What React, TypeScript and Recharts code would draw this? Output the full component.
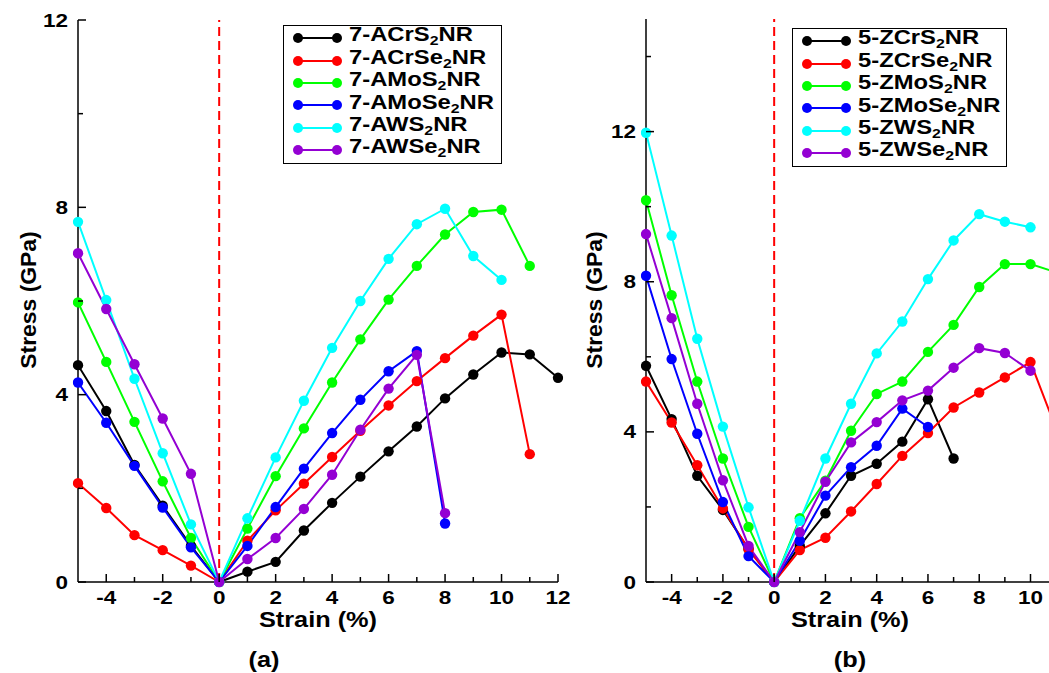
import { LineChart, Line, XAxis, YAxis, ReferenceLine, Legend } from "recharts";

const FONT = '"Liberation Sans", Arial, Helvetica, sans-serif';
const STRETCH = 1.22;

// strain (%) sampled from -5 upward in steps of 1
const strain = [-5, -4, -3, -2, -1, 0, 1, 2, 3, 4, 5, 6, 7, 8, 9, 10, 11, 12];

// (a) armchair ribbons, stress in GPa
const aCrS2 = [4.63, 3.65, 2.5, 1.63, 0.77, 0, 0.22, 0.43, 1.1, 1.69, 2.25, 2.79, 3.32, 3.92, 4.43, 4.9, 4.86, 4.36];
const aCrSe2 = [2.11, 1.58, 1.0, 0.68, 0.35, 0, 0.88, 1.53, 2.1, 2.67, 3.23, 3.77, 4.29, 4.78, 5.26, 5.71, 2.73];
const aMoS2 = [5.97, 4.7, 3.42, 2.15, 0.94, 0, 1.14, 2.26, 3.28, 4.26, 5.18, 6.03, 6.75, 7.42, 7.9, 7.95, 6.75];
const aMoSe2 = [4.26, 3.4, 2.48, 1.59, 0.74, 0, 0.77, 1.6, 2.42, 3.18, 3.89, 4.5, 4.93, 1.25];
const aWS2 = [7.69, 6.02, 4.34, 2.75, 1.23, 0, 1.36, 2.66, 3.87, 5.0, 6.0, 6.9, 7.64, 7.97, 6.96, 6.45];
const aWSe2 = [7.02, 5.83, 4.65, 3.49, 2.31, 0, 0.49, 0.94, 1.56, 2.29, 3.25, 4.13, 4.85, 1.47];

// (b) zigzag ribbons
const zCrS2 = [5.76, 4.34, 2.83, 1.92, 0.88, 0, 0.96, 1.83, 2.83, 3.15, 3.74, 4.87, 3.29];
const zCrSe2 = [5.34, 4.25, 3.11, 1.96, 0.87, 0, 0.85, 1.18, 1.88, 2.61, 3.36, 3.97, 4.65, 5.05, 5.45, 5.86, 4.08];
const zMoS2 = [10.17, 7.64, 5.34, 3.29, 1.47, 0, 1.7, 2.7, 4.03, 5.01, 5.34, 6.13, 6.85, 7.86, 8.47, 8.47, 8.25];
const zMoSe2 = [8.16, 5.94, 3.95, 2.13, 0.69, 0, 1.1, 2.3, 3.06, 3.63, 4.62, 4.13];
const zWS2 = [11.97, 9.23, 6.48, 4.14, 1.99, 0, 1.63, 3.29, 4.75, 6.09, 6.94, 8.07, 9.1, 9.8, 9.6, 9.45];
const zWSe2 = [9.27, 7.03, 4.75, 2.71, 0.96, 0, 1.33, 2.67, 3.72, 4.26, 4.84, 5.1, 5.71, 6.23, 6.1, 5.63];

const colors = ["#000000", "#ff0000", "#00ff00", "#0000ff", "#00ffff", "#9400d3"];
const namesA = ["7-ACrS", "7-ACrSe", "7-AMoS", "7-AMoSe", "7-AWS", "7-AWSe"];
const namesB = ["5-ZCrS", "5-ZCrSe", "5-ZMoS", "5-ZMoSe", "5-ZWS", "5-ZWSe"];

const ticksXA = [-4, -3, -2, -1, 0, 1, 2, 3, 4, 5, 6, 7, 8, 9, 10, 11, 12];
const ticksXB = [-4, -3, -2, -1, 0, 1, 2, 3, 4, 5, 6, 7, 8, 9, 10];
const ticksYA = [0, 2, 4, 6, 8, 10, 12];
const ticksYB = [0, 2, 4, 6, 8, 10, 12, 14];

type Series = { name: string; color: string; points: { x: number; y: number }[] };

const toPoints = (vals: number[]) => vals.map((y, i) => ({ x: strain[i], y }));

const seriesA: Series[] = [aCrS2, aCrSe2, aMoS2, aMoSe2, aWS2, aWSe2].map((v, i) => ({
  name: namesA[i],
  color: colors[i],
  points: toPoints(v),
}));
const seriesB: Series[] = [zCrS2, zCrSe2, zMoS2, zMoSe2, zWS2, zWSe2].map((v, i) => ({
  name: namesB[i],
  color: colors[i],
  points: toPoints(v),
}));

const tickText = (x: number, y: number, anchor: string, value: number) => (
  <text
    transform={`translate(${x},${y}) scale(1.25,1)`}
    textAnchor={anchor}
    fontFamily={FONT}
    fontWeight="bold"
    fontSize={18}
    fill="#000"
  >
    {value}
  </text>
);

// ticks point into the plot, labels only on even (x) / multiples of 4 (y)
const BottomTick = ({ x, y, payload }: any) => {
  const major = payload.value % 2 === 0;
  return (
    <g>
      <line x1={x} x2={x} y1={y} y2={y - (major ? 8 : 5)} stroke="#000" strokeWidth={1.5} />
      {major && tickText(x, y + 22, "middle", payload.value)}
    </g>
  );
};
const TopTick = ({ x, y, payload }: any) => {
  const major = payload.value % 2 === 0;
  return <line x1={x} x2={x} y1={y} y2={y + (major ? 7 : 5)} stroke="#000" strokeWidth={1.5} />;
};
const LeftTick = ({ x, y, payload }: any) => {
  const major = payload.value % 4 === 0;
  return (
    <g>
      <line x1={x} x2={x + (major ? 8 : 5)} y1={y} y2={y} stroke="#000" strokeWidth={1.5} />
      {major && tickText(x - 10, y + 6.5, "end", payload.value)}
    </g>
  );
};
const RightTick = ({ x, y, payload }: any) => {
  const major = payload.value % 4 === 0;
  return <line x1={x} x2={x - (major ? 7 : 5)} y1={y} y2={y} stroke="#000" strokeWidth={1.5} />;
};

function LegendBox({ series }: { series: Series[] }) {
  return (
    <div
      style={{
        border: "1.5px solid #000",
        background: "#fff",
        padding: "1px 0 2px 9px",
        fontFamily: FONT,
        fontWeight: "bold",
        color: "#000",
      }}
    >
      {series.map((s) => (
        <div key={s.name} style={{ height: 22.4, display: "flex", alignItems: "center" }}>
          <svg width={50} height={12} style={{ flex: "none" }}>
            <line x1={5} x2={44} y1={6} y2={6} stroke={s.color} strokeWidth={2} />
            <circle cx={5} cy={6} r={5} fill={s.color} />
            <circle cx={44} cy={6} r={5} fill={s.color} />
          </svg>
          <span
            style={{
              display: "inline-block",
              fontSize: 19.5,
              lineHeight: 1,
              marginLeft: 6,
              whiteSpace: "nowrap",
              transform: `scaleX(${STRETCH})`,
              transformOrigin: "left center",
              position: "relative",
              top: -3,
            }}
          >
            {s.name}
            <span style={{ fontSize: 13, position: "relative", top: 4 }}>2</span>NR
          </span>
        </div>
      ))}
    </div>
  );
}

function Title({ text, x, y, rotate }: { text: string; x: number; y: number; rotate?: boolean }) {
  return (
    <div
      style={{
        position: "absolute",
        left: x,
        top: y,
        fontFamily: FONT,
        fontWeight: "bold",
        fontSize: 22,
        lineHeight: 1,
        whiteSpace: "nowrap",
        color: "#000",
        transform: rotate
          ? "translate(-50%,-50%) rotate(-90deg) scaleX(1.04)"
          : "translate(-50%,-50%) scaleX(1.15)",
      }}
    >
      {text}
    </div>
  );
}

function Panel({
  series,
  width,
  xMax,
  yMax,
  ticksX,
  ticksY,
  axisWidth,
  marginRight,
  marginTop,
  legendPos,
}: {
  series: Series[];
  width: number;
  xMax: number;
  yMax: number;
  ticksX: number[];
  ticksY: number[];
  axisWidth: number;
  marginRight: number;
  marginTop: number;
  legendPos: { left: number; top: number; width: number };
}) {
  return (
    <LineChart width={width} height={673} margin={{ top: marginTop, right: marginRight, bottom: 0, left: 0 }}>
      <XAxis
        type="number"
        dataKey="x"
        domain={[-5, xMax]}
        allowDataOverflow
        ticks={ticksX}
        interval={0}
        height={91}
        tickSize={0}
        tickMargin={0}
        tick={<BottomTick />}
        axisLine={{ stroke: "#000", strokeWidth: 1.5 }}
      />
      <XAxis
        xAxisId="top"
        orientation="top"
        type="number"
        domain={[-5, xMax]}
        allowDataOverflow
        ticks={ticksX}
        interval={0}
        height={0}
        tickSize={0}
        tickMargin={0}
        tick={<TopTick />}
        axisLine={{ stroke: "#000", strokeWidth: 1.5 }}
      />
      <YAxis
        type="number"
        domain={[0, yMax]}
        ticks={ticksY}
        interval={0}
        width={axisWidth}
        tickSize={0}
        tickMargin={0}
        tick={<LeftTick />}
        axisLine={{ stroke: "#000", strokeWidth: 1.5 }}
      />
      <YAxis
        yAxisId="right"
        orientation="right"
        type="number"
        domain={[0, yMax]}
        ticks={ticksY}
        interval={0}
        width={0}
        tickSize={0}
        tickMargin={0}
        tick={<RightTick />}
        axisLine={{ stroke: "#000", strokeWidth: 1.5 }}
      />
      <ReferenceLine x={0} stroke="#ff0000" strokeWidth={2} strokeDasharray="9 5" />
      {series.map((s) => (
        <Line
          key={s.name}
          data={s.points}
          dataKey="y"
          name={s.name}
          stroke={s.color}
          strokeWidth={2}
          dot={{ r: 5.2, fill: s.color, stroke: s.color, strokeWidth: 0, clipDot: false }}
          activeDot={false}
          isAnimationActive={false}
        />
      ))}
      <Legend
        layout="vertical"
        align="center"
        verticalAlign="middle"
        content={() => <LegendBox series={series} />}
        wrapperStyle={{ left: legendPos.left, top: legendPos.top, width: legendPos.width, height: "auto" }}
      />
    </LineChart>
  );
}

export default function App() {
  return (
    <div
      style={{
        position: "absolute",
        left: 0,
        top: 0,
        width: 1049,
        height: 673,
        overflow: "hidden",
        background: "#fff",
      }}
    >
      <div style={{ position: "absolute", left: 0, top: 0 }}>
        <Panel
          series={seriesA}
          width={600}
          xMax={12}
          yMax={12}
          ticksX={ticksXA}
          ticksY={ticksYA}
          axisWidth={78}
          marginRight={42}
          marginTop={20}
          legendPos={{ left: 283, top: 25, width: 219 }}
        />
      </div>
      <div style={{ position: "absolute", left: 560, top: 0 }}>
        <Panel
          series={seriesB}
          width={500}
          xMax={10.8}
          yMax={15}
          ticksX={ticksXB}
          ticksY={ticksYB}
          axisWidth={86}
          marginRight={9}
          marginTop={19}
          legendPos={{ left: 232, top: 28, width: 215 }}
        />
      </div>
      <Title text="Stress (GPa)" x={29} y={300} rotate />
      <Title text="Strain (%)" x={318} y={620} />
      <Title text="(a)" x={264} y={660} />
      <Title text="Stress (GPa)" x={595} y={300} rotate />
      <Title text="Strain (%)" x={850} y={620} />
      <Title text="(b)" x={850} y={660} />
    </div>
  );
}
